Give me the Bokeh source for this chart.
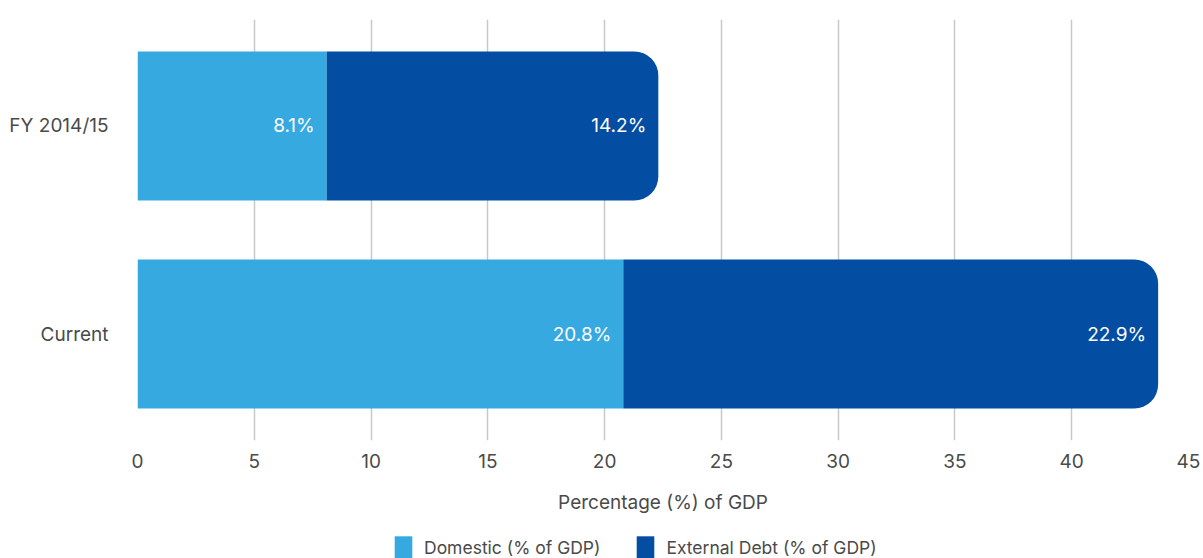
from bokeh.plotting import figure
from bokeh.layouts import column
from bokeh.models import (ColumnDataSource, FactorRange, Range1d, Legend, LegendItem,
                          FixedTicker)
from bokeh.core.properties import value
from bokeh.embed import file_html
from bokeh.resources import INLINE

# ---- data ----
categories = ["FY 2014/15", "Current"]
domestic = [8.1, 20.8]
external = [14.2, 22.9]
series_names = ["Domestic (% of GDP)", "External Debt (% of GDP)"]
x_ticks = [0, 5, 10, 15, 20, 25, 30, 35, 40, 45]
x_title = "Percentage (%) of GDP"

C_DOM = "#36A9E0"
C_EXT = "#034EA2"
TXT = "#4a4a4a"
FONT = "Inter"
FS = "19px"

dom_end = [d for d in domestic]
ext_end = [d + e for d, e in zip(domestic, external)]

src = ColumnDataSource(dict(
    cat=categories,
    dom=domestic,
    ext=external,
    zero=[0] * len(categories),
    dom_end=dom_end,
    ext_end=ext_end,
    dom_lbl=[f"{v:.1f}%" for v in domestic],
    ext_lbl=[f"{v:.1f}%" for v in external],
))

p = figure(
    width=1203, height=536,
    y_range=FactorRange(factors=list(reversed(categories)), range_padding=0.012),
    x_range=Range1d(0, 45),
    output_backend="svg", toolbar_location=None,
    min_border_left=137, min_border_right=15, min_border_top=19, min_border_bottom=96,
)
p.outline_line_color = None
p.background_fill_color = "white"
p.border_fill_color = "white"

r_dom = p.hbar(y="cat", left="zero", right="dom_end", height=0.716, source=src,
               fill_color=C_DOM, line_color=None)
r_ext = p.hbar(y="cat", left="dom_end", right="ext_end", height=0.716, source=src,
               fill_color=C_EXT, line_color=None, border_radius=(0, 24, 24, 0))

p.text(x="dom_end", y="cat", text="dom_lbl", source=src, x_offset=-12,
       text_align="right", text_baseline="middle", text_color="white",
       text_font=value(FONT), text_font_size=FS)
p.text(x="ext_end", y="cat", text="ext_lbl", source=src, x_offset=-12,
       text_align="right", text_baseline="middle", text_color="white",
       text_font=value(FONT), text_font_size=FS)

# grid
p.ygrid.grid_line_color = None
p.xgrid.grid_line_color = "#c8c8c8"
p.xgrid.grid_line_width = 1.5
p.xgrid.ticker = FixedTicker(ticks=x_ticks)
p.xaxis.ticker = FixedTicker(ticks=x_ticks)

for ax in (p.xaxis[0], p.yaxis[0]):
    ax.axis_line_color = None
    ax.major_tick_line_color = None
    ax.minor_tick_line_color = None
    ax.major_tick_out = 0
    ax.major_tick_in = 0
    ax.major_label_text_font = FONT
    ax.major_label_text_font_size = FS
    ax.major_label_text_color = TXT

p.xaxis.major_label_standoff = 13
p.yaxis.major_label_standoff = 29
p.xaxis.axis_label = x_title
p.xaxis.axis_label_text_font = FONT
p.xaxis.axis_label_text_font_size = FS
p.xaxis.axis_label_text_font_style = "normal"
p.xaxis.axis_label_text_color = TXT
p.xaxis.axis_label_standoff = 20

# ---- legend strip ----
lg = figure(
    width=1203, height=22, x_range=Range1d(0, 1), y_range=Range1d(0, 1),
    output_backend="svg", toolbar_location=None,
    x_axis_type=None, y_axis_type=None, min_border=0,
)
lg.outline_line_color = None
lg.grid.visible = False
l_dom = lg.hbar(y=[-10], left=[0], right=[1], height=1, fill_color=C_DOM, line_color=None)
l_ext = lg.hbar(y=[-10], left=[0], right=[1], height=1, fill_color=C_EXT, line_color=None)

legend = Legend(
    items=[LegendItem(label=series_names[0], renderers=[l_dom]),
           LegendItem(label=series_names[1], renderers=[l_ext])],
    orientation="horizontal",
    location=(255, -3),
    padding=0, margin=0, spacing=34,
    glyph_width=22, glyph_height=28, label_standoff=10,
    label_text_font=FONT, label_text_font_size="17.5px", label_text_color=TXT,
    border_line_color=None, background_fill_alpha=0,
)
lg.add_layout(legend, "center")

layout = column(p, lg, spacing=0)
open("out.html", "w").write(file_html(layout, INLINE))
